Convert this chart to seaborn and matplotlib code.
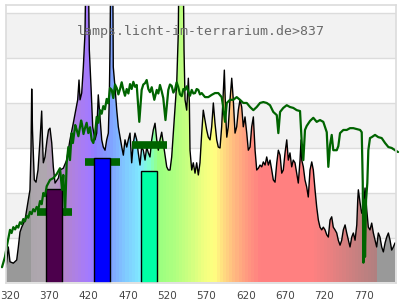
import numpy as np
import pandas as pd
import matplotlib
matplotlib.use("Agg")
import matplotlib.pyplot as plt
import seaborn as sns
from matplotlib.patches import PathPatch
from matplotlib.colors import to_rgb

# ---------------- data ----------------
title_text = "lamps.licht-im-terrarium.de>837"
xtick_values = [320, 370, 420, 470, 520, 570, 620, 670, 720, 770]

lamp_wl = [315.0, 317.8, 320.0, 324.2, 328.5, 330.6, 332.7, 334.9, 339.1, 341.2, 343.3, 345.4,
           346.7, 347.6, 348.6, 350.9, 353.1, 355.6, 358.2, 360.3, 361.3, 362.4, 364.5, 367.1,
           369.0, 370.9, 373.1, 375.1, 377.3, 381.5, 383.6, 387.8, 392.1, 396.3, 400.5, 403.6,
           406.1, 407.8, 409.1, 411.2, 413.3, 415.4, 418.2, 420.9, 423.1, 425.2, 428.1, 430.3,
           432.3, 434.5, 436.7, 438.7, 440.9, 443.0, 445.1, 446.3, 447.2, 449.8, 451.4, 453.6,
           455.8, 457.8, 460.0, 462.2, 464.2, 466.3, 468.5, 470.5, 472.7, 474.8, 476.9, 479.0,
           481.2, 483.2, 485.4, 487.5, 489.6, 491.8, 493.9, 496.0, 498.1, 500.3, 502.3, 504.5,
           506.7, 508.7, 510.8, 513.0, 515.0, 517.2, 519.4, 521.4, 523.6, 525.7, 527.8, 529.9,
           532.1, 534.1, 537.7, 541.4, 542.7, 544.8, 546.9, 548.2, 549.0, 551.2, 553.2, 555.4,
           557.5, 559.6, 561.7, 563.9, 565.9, 568.1, 570.2, 572.3, 574.5, 576.6, 578.7, 580.8,
           583.0, 585.0, 587.2, 589.3, 591.4, 592.7, 594.5, 595.8, 597.7, 599.9, 602.1, 604.1,
           606.3, 608.4, 610.5, 612.6, 614.8, 616.8, 619.0, 621.2, 623.2, 625.4, 627.5, 629.6,
           631.8, 633.9, 636.0, 638.1, 640.3, 642.3, 644.5, 646.6, 648.7, 650.8, 653.0, 655.0,
           657.2, 659.4, 661.4, 663.6, 665.7, 667.7, 669.9, 672.1, 674.1, 676.2, 678.4, 680.4,
           682.6, 684.8, 686.8, 689.0, 690.3, 691.2, 693.2, 695.3, 697.5, 699.5, 701.7, 703.9,
           705.9, 708.1, 710.2, 712.3, 714.4, 716.6, 718.6, 720.8, 723.0, 725.0, 727.2, 729.3,
           731.3, 733.5, 735.7, 737.7, 739.9, 742.0, 744.1, 746.3, 748.4, 750.5, 752.6, 754.8,
           756.8, 759.0, 761.2, 762.4, 763.2, 765.4, 767.5, 769.6, 770.8, 771.7, 773.9, 775.9,
           778.0, 780.2, 782.3, 784.4, 786.5, 788.6, 790.7, 792.9, 795.0, 797.2, 799.3, 801.4,
           803.5, 805.6, 807.7, 809.9]
lamp_val = [0.34, 0.79, 0.46, 0.43, 0.50, 0.79, 1.12, 1.23, 1.39, 1.61, 1.83, 2.06,
            2.94, 4.30, 3.39, 2.28, 2.23, 2.50, 3.17, 3.81, 3.17, 2.66, 2.79, 3.17,
            3.39, 3.43, 3.10, 2.57, 2.21, 2.32, 2.50, 2.54, 2.72, 3.17, 3.54, 3.83,
            4.06, 4.50, 4.06, 4.21, 4.79, 5.54, 9.00, 5.17, 4.34, 3.46, 3.17, 3.32,
            4.17, 3.68, 3.17, 3.01, 2.94, 3.17, 3.32, 4.06, 5.17, 10.0, 4.79, 4.34,
            3.83, 3.46, 3.23, 3.01, 2.83, 3.17, 3.01, 3.17, 3.32, 2.66, 3.10, 3.32,
            3.17, 2.88, 2.61, 3.01, 2.94, 2.72, 3.01, 2.88, 2.79, 3.17, 3.39, 3.54,
            3.17, 2.94, 3.17, 3.34, 3.10, 2.83, 2.57, 2.50, 2.50, 2.79, 3.32, 3.83,
            4.43, 5.54, 12.0, 5.17, 4.06, 3.83, 4.54, 3.99, 2.94, 2.50, 2.66, 2.43,
            2.66, 2.39, 2.66, 3.32, 3.83, 3.61, 3.39, 3.23, 3.17, 3.46, 3.99, 3.54,
            3.17, 3.01, 2.99, 3.46, 4.21, 4.72, 3.68, 3.23, 3.46, 4.06, 4.54, 4.06,
            3.32, 3.46, 3.83, 4.06, 3.90, 3.46, 3.68, 3.32, 2.94, 3.01, 3.46, 3.68,
            2.94, 2.50, 2.54, 2.61, 2.57, 2.68, 2.61, 2.79, 2.61, 2.72, 2.50, 2.28,
            2.23, 2.66, 2.94, 2.83, 2.43, 2.50, 2.88, 3.17, 2.72, 2.88, 2.57, 2.72,
            2.66, 2.43, 2.21, 2.72, 3.17, 2.72, 2.57, 2.28, 2.12, 1.90, 2.50, 2.68,
            2.50, 2.06, 1.68, 1.39, 1.23, 1.17, 1.23, 1.17, 1.06, 1.01, 1.39, 1.46,
            1.23, 1.17, 1.10, 0.94, 0.83, 0.94, 1.17, 1.28, 1.10, 0.94, 0.79, 1.01,
            1.10, 0.94, 1.28, 1.83, 2.06, 1.77, 1.54, 1.68, 1.90, 2.10, 1.61, 1.23,
            1.17, 1.32, 1.10, 0.94, 0.79, 1.10, 1.01, 0.79, 0.68, 0.88, 1.01, 1.10,
            0.94, 0.72, 0.79, 0.88]

daylight_wl = [309.8, 313.6, 315.8, 320.0, 322.0, 324.2, 326.5, 328.5, 330.5, 332.7, 334.8, 336.9,
               339.0, 341.2, 343.3, 345.4, 347.5, 349.6, 351.7, 353.9, 356.0, 358.2, 360.3, 362.4,
               364.5, 366.7, 370.9, 375.1, 379.4, 383.6, 386.2, 387.8, 390.0, 392.1, 394.2,
               396.3, 398.5, 400.0, 401.4, 403.0, 404.9, 407.0, 409.1, 410.5, 411.6, 413.5, 415.4,
               417.5, 419.6, 421.8, 423.9, 426.0, 428.1, 430.3, 432.4, 434.5, 436.6, 438.7, 440.8,
               443.0, 445.1, 447.2, 449.4, 451.4, 453.6, 455.8, 457.9, 460.0, 462.1, 464.2, 466.3,
               468.5, 470.6, 472.7, 474.8, 476.9, 479.0, 481.2, 484.5, 487.5, 489.6, 491.8, 493.9,
               496.0, 498.1, 500.3, 503.6, 506.7, 508.7, 510.8, 513.0, 515.0, 517.8, 521.4, 523.5,
               525.7, 527.8, 529.9, 532.0, 534.1, 536.3, 538.5, 540.6, 542.7, 544.8, 546.9, 549.0,
               551.2, 553.3, 555.4, 557.5, 559.6, 561.7, 563.9, 568.1, 572.3, 576.6, 580.8, 585.0,
               589.3, 591.4, 593.6, 595.8, 599.9, 604.1, 608.4, 612.6, 616.8, 621.2, 625.4, 629.6,
               633.9, 638.1, 642.3, 646.6, 650.8, 655.0, 659.4, 661.4, 663.6, 667.7, 672.1, 676.2,
               680.4, 684.8, 689.0, 691.2, 693.2, 695.3, 697.5, 701.7, 705.9, 710.2, 714.4, 718.6,
               723.0, 725.0, 727.2, 729.3, 731.3, 735.7, 737.7, 739.9, 744.1, 748.4, 752.6, 756.8,
               761.2, 765.4, 767.5, 768.8, 769.6, 770.8, 771.7, 773.0, 774.6, 775.9, 778.0, 780.2,
               784.4, 788.6, 792.9, 797.2, 801.4, 805.6, 809.9, 813.7]
daylight_val = [0.34, 0.57, 0.79, 1.17, 1.10, 1.23, 1.18, 1.26, 1.22, 1.34, 1.30, 1.41,
                1.36, 1.48, 1.44, 1.57, 1.52, 1.63, 1.58, 1.68, 1.62, 1.81, 1.74, 1.99,
                1.92, 2.14, 2.28, 2.32, 2.41, 2.54, 2.06, 2.39, 1.50, 2.66, 3.01,
                2.72, 3.32, 3.10, 3.28, 3.50, 3.39, 3.25, 3.46, 3.60, 3.52, 3.30, 3.43,
                3.55, 3.32, 3.45, 3.17, 3.10, 3.28, 3.68, 3.55, 3.83, 3.75, 3.92, 3.85,
                4.08, 3.98, 4.32, 4.28, 4.10, 4.40, 4.32, 4.18, 4.30, 4.45, 4.28, 4.15,
                4.30, 4.20, 4.41, 4.30, 4.46, 4.35, 4.39, 3.57, 4.28, 4.40, 4.43, 4.50,
                4.30, 4.23, 4.34, 4.06, 4.28, 4.20, 4.39, 4.25, 4.10, 3.61, 4.28, 4.40,
                4.37, 4.22, 4.28, 4.45, 4.34, 4.18, 4.14, 4.30, 4.28, 4.36, 4.23, 4.15,
                4.28, 4.20, 4.21, 4.30, 4.28, 4.18, 4.21, 4.12, 4.12, 4.17, 4.21, 4.21,
                4.12, 3.88, 3.57, 3.99, 4.06, 4.06, 4.12, 4.06, 3.99, 3.99, 3.90, 3.83,
                3.90, 3.99, 4.01, 3.99, 3.94, 3.79, 3.72, 3.32, 3.79, 3.88, 3.94, 3.90,
                3.88, 3.83, 3.81, 3.10, 2.72, 3.39, 3.48, 3.59, 3.66, 3.57, 3.61, 3.57,
                3.34, 2.57, 3.06, 3.28, 2.94, 2.94, 3.03, 3.32, 3.39, 3.39, 3.43, 3.43,
                3.41, 3.39, 3.34, 2.21, 0.44, 1.83, 0.57, 1.83, 2.21, 2.94, 3.21, 3.23,
                3.28, 3.23, 3.21, 3.10, 3.01, 2.99, 2.94, 2.90]

band_center = [376.4, 437.5, 497.3]
band_lamp = [2.08, 2.77, 2.48]
band_daylight = [1.57, 2.68, 3.06]
band_colors = ["#4c004c", "#0000ff", "#00ffa5"]

# ---------------- style ----------------
spec_stops = [(315.0, "#999999"), (344.9, "#999999"), (345.0, "#aca6ac"), (365.0, "#b0a8b0"),
              (380.0, "#b898c4"), (388.0, "#b485cc"), (405.0, "#ad80e8"), (420.0, "#a47aff"),
              (428.0, "#9080ff"), (448.0, "#80a2ff"), (468.0, "#80ccff"), (486.0, "#80eaff"),
              (497.0, "#80ffd0"), (508.0, "#98ff80"), (530.0, "#b0ff80"), (550.0, "#d0ff80"),
              (566.0, "#f0ff80"), (580.0, "#ffff80"), (590.0, "#ffe080"), (603.0, "#ffc080"),
              (618.0, "#ffa080"), (638.0, "#ff8080"), (705.0, "#ff8080"), (730.0, "#e88080"),
              (760.0, "#c88080"), (786.9, "#b08080"), (787.0, "#999999"), (812.0, "#999999")]

sns.set_style("white")
fig = plt.figure(figsize=(4, 3), dpi=100)
ax = fig.add_axes([6 / 400, 17.5 / 300, 390 / 400, 277.5 / 300])

x_lo, x_hi = 314.9, 811.1
y_lo, y_hi = 0.0, 6.167

# background bands + grid
for k in (1, 3, 5):
    ax.axhspan(k, k + 1, color="#f2f2f2", zorder=0, lw=0)
for k in range(1, 7):
    ax.axhline(k, color="#dcdcdc", lw=1.0, zorder=0.5)

# spectral gradient clipped under the lamp curve
grid_wl = np.arange(x_lo, x_hi + 4, 4.0)
stop_x = np.array([s[0] for s in spec_stops])
stop_rgb = np.array([to_rgb(s[1]) for s in spec_stops])
img = np.zeros((1, len(grid_wl), 3))
for c in range(3):
    img[0, :, c] = np.interp(grid_wl + 2.0, stop_x, stop_rgb[:, c])
im = ax.imshow(img, extent=[grid_wl[0], grid_wl[-1] + 4.0, 0, 13], aspect="auto",
               interpolation="nearest", origin="lower", zorder=1)
poly = ax.fill_between(lamp_wl, 0, lamp_val, facecolor="none", edgecolor="none")
patch = PathPatch(poly.get_paths()[0], transform=ax.transData, facecolor="none", edgecolor="none")
ax.add_patch(patch)
im.set_clip_path(patch)

lamp_df = pd.DataFrame({"wl": lamp_wl, "val": lamp_val})
sns.lineplot(data=lamp_df, x="wl", y="val", ax=ax, color="black", lw=1.0,
             estimator=None, sort=False, zorder=2)

# daylight band marks (behind bars)
ax.hlines(band_daylight, [c - 22 for c in band_center], [c + 22 for c in band_center],
          color="#006400", lw=5.5, zorder=3)
# lamp band bars
ax.bar(band_center, band_lamp, width=20.5, color=band_colors, edgecolor="black",
       linewidth=1.0, zorder=4)

day_df = pd.DataFrame({"wl": daylight_wl, "val": daylight_val})
sns.lineplot(data=day_df, x="wl", y="val", ax=ax, color="#006400", lw=1.6,
             estimator=None, sort=False, zorder=5, clip_on=False)

ax.set_xlim(x_lo, x_hi)
ax.set_ylim(y_lo, y_hi)

ax.text(0.5, 5.57, title_text, transform=ax.get_yaxis_transform(), ha="center", va="center",
        family="DejaVu Sans Mono", fontsize=9.5, color="#6a6a6a", zorder=6)

ax.set_xticks(xtick_values)
ax.set_xticklabels([str(v) for v in xtick_values])
ax.set_yticks([])
ax.tick_params(axis="x", length=0, pad=6, labelsize=7.5, labelcolor="#444444")
ax.set_xlabel("")
ax.set_ylabel("")
for s in ax.spines.values():
    s.set_color("#dcdcdc")
    s.set_linewidth(1.2)
    s.set_zorder(7)

fig.savefig("out.png", dpi=100)
